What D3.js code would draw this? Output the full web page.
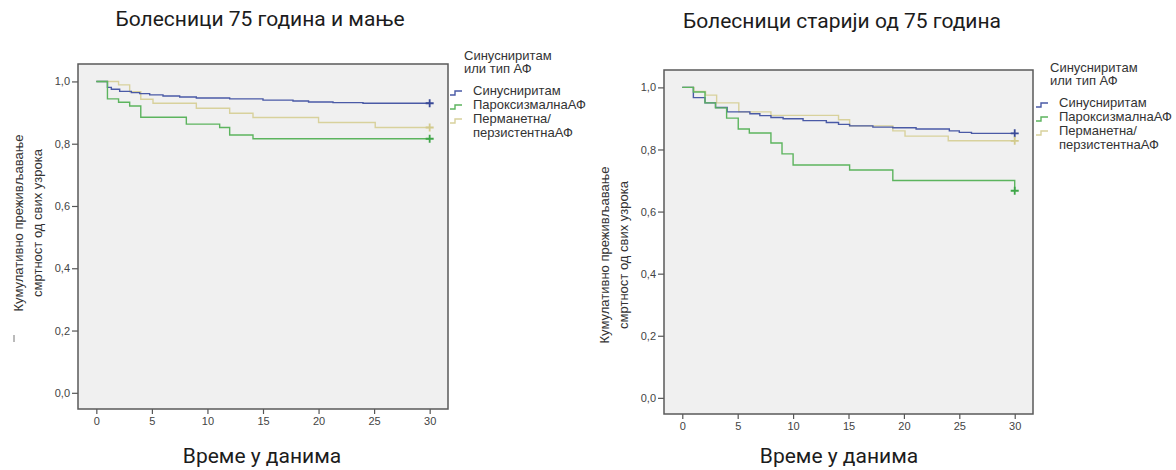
<!DOCTYPE html>
<html>
<head>
<meta charset="utf-8">
<script src="https://cdn.jsdelivr.net/npm/d3@7"></script>
<style>
  body { margin: 0; background: #fff; }
  text { font-family: "Liberation Sans", Arial, sans-serif; }
  .title { font-family: Roboto, "Noto Sans", sans-serif; }
</style>
</head>
<body>
<script>
// tick values
const timeTicks = [0, 5, 10, 15, 20, 25, 30];
const survTicks = [0, 0.2, 0.4, 0.6, 0.8, 1.0];

// legend
const legendTitle = ['Синусниритам', 'или тип АФ'];
const groupNames = [['Синусниритам'], ['ПароксизмалнаАФ'], ['Перманетна/', 'перзистентнаАФ']];
const groupColors = ['#4a5aa6', '#5cb45e', '#d8d19c'];
const censorColors = ['#3a4a98', '#3fa648', '#d2ca8c'];

// Kaplan-Meier steps [day, survival], 75 and younger
const youngSinus = [[0, 1], [1, 0.981], [1.35, 0.975], [2.1, 0.968], [3.15, 0.964], [3.9, 0.961],
  [4.8, 0.957], [6, 0.953], [7.5, 0.950], [9, 0.947], [12, 0.944], [15, 0.940], [17.7, 0.937],
  [19.1, 0.934], [21.3, 0.932], [24, 0.930], [30, 0.930]];
const youngParox = [[0, 1], [1, 0.944], [2, 0.933], [3, 0.921], [4, 0.885], [8.1, 0.863],
  [11.1, 0.852], [12, 0.828], [14.1, 0.816], [30, 0.816]];
const youngPerm = [[0, 1], [2, 0.989], [3, 0.967], [4, 0.943], [5.1, 0.930], [9, 0.914],
  [12, 0.898], [14.1, 0.884], [20, 0.868], [25.1, 0.852], [30, 0.852]];

// older than 75
const oldSinus = [[0, 1], [1, 0.967], [2.05, 0.950], [3, 0.935], [4.05, 0.921], [6.1, 0.915],
  [7, 0.909], [8, 0.903], [9.1, 0.899], [10.9, 0.893], [13, 0.887], [14.1, 0.881], [15.1, 0.876],
  [17.2, 0.872], [19, 0.870], [21.1, 0.866], [24.1, 0.860], [25, 0.855], [26.1, 0.852], [30, 0.852]];
const oldParox = [[0, 1], [1, 0.985], [2.05, 0.950], [3, 0.934], [4, 0.901], [5.05, 0.866],
  [6.05, 0.853], [8, 0.821], [9, 0.786], [10, 0.750], [15.1, 0.734], [19, 0.700], [30, 0.667]];
const oldPerm = [[0, 1], [1.05, 0.987], [2.1, 0.975], [3.1, 0.950], [5.1, 0.921], [8, 0.910],
  [14.1, 0.896], [15.1, 0.876], [19, 0.860], [20.1, 0.843], [24, 0.828], [30, 0.828]];

const panels = [
  {
    title: 'Болесници 75 година и мање', titleX: 260, titleY: 19,
    frame: { x: 78, y: 64, w: 370, h: 345 },
    xTitleX: 262, xTitleY: 456,
    yLab: { x1: 18, x2: 37, cy: 223 },
    legend: { x: 464, y: 55 },
    series: [youngSinus, youngParox, youngPerm]
  },
  {
    title: 'Болесници старији од 75 година', titleX: 842, titleY: 21,
    frame: { x: 664, y: 70, w: 369, h: 344 },
    xTitleX: 839, xTitleY: 456,
    yLab: { x1: 604, x2: 623, cy: 255 },
    legend: { x: 1050, y: 67 },
    series: [oldSinus, oldParox, oldPerm]
  }
];

const svg = d3.select('body').append('svg')
    .attr('width', 1176)
    .attr('height', 470);

const fmt = d => d3.format('.1f')(d).replace('.', ',');

panels.forEach(p => {
  const f = p.frame;
  const x = d3.scaleLinear().domain([-1.65, 31.65]).range([f.x, f.x + f.w]);
  const y = d3.scaleLinear().domain([-0.052, 1.056]).range([f.y + f.h, f.y]);

  svg.append('text')
      .attr('class', 'title')
      .attr('x', p.titleX)
      .attr('y', p.titleY)
      .attr('text-anchor', 'middle')
      .attr('dominant-baseline', 'central')
      .attr('font-size', 21)
      .attr('fill', '#1c1c1c')
      .text(p.title);

  svg.append('rect')
      .attr('x', f.x)
      .attr('y', f.y)
      .attr('width', f.w)
      .attr('height', f.h)
      .attr('fill', '#f0f0f0');

  const xAxis = svg.append('g')
      .attr('transform', `translate(0,${f.y + f.h})`)
      .call(d3.axisBottom(x).tickValues(timeTicks).tickSize(5).tickPadding(3).tickFormat(d3.format('d')));
  const yAxis = svg.append('g')
      .attr('transform', `translate(${f.x},0)`)
      .call(d3.axisLeft(y).tickValues(survTicks).tickSize(6).tickPadding(2).tickFormat(fmt));
  [xAxis, yAxis].forEach(a => {
    a.select('.domain').remove();
    a.selectAll('line').attr('stroke', '#555').attr('stroke-width', 1.2);
    a.selectAll('text')
        .attr('font-family', '"Liberation Sans", Arial, sans-serif')
        .attr('font-size', 11)
        .attr('fill', '#444');
  });

  const line = d3.line()
      .x(d => x(d[0]))
      .y(d => y(d[1]))
      .curve(d3.curveStepAfter);

  // draw in reverse so blue ends on top
  [2, 0, 1].forEach(i => {
    svg.append('path')
        .datum(p.series[i])
        .attr('d', line)
        .attr('fill', 'none')
        .attr('stroke', groupColors[i])
        .attr('stroke-width', 1.4);
  });

  // censor marks at the end of follow-up
  p.series.forEach((s, i) => {
    const last = s[s.length - 1];
    const cx = x(last[0]), cy = y(last[1]);
    svg.append('path')
        .attr('d', `M${cx - 4},${cy}H${cx + 4}M${cx},${cy - 4}V${cy + 4}`)
        .attr('stroke', censorColors[i])
        .attr('stroke-width', 1.8)
        .attr('fill', 'none');
  });

  svg.append('rect')
      .attr('x', f.x)
      .attr('y', f.y)
      .attr('width', f.w)
      .attr('height', f.h)
      .attr('fill', 'none')
      .attr('stroke', '#5a5a5a')
      .attr('stroke-width', 1.5);

  svg.append('text')
      .attr('class', 'title')
      .attr('x', p.xTitleX)
      .attr('y', p.xTitleY)
      .attr('text-anchor', 'middle')
      .attr('dominant-baseline', 'central')
      .attr('font-size', 21)
      .attr('fill', '#1c1c1c')
      .text('Време у данима');

  [['Кумулативно преживљавање', p.yLab.x1], ['смртност од свих узрока', p.yLab.x2]].forEach(([t, lx]) => {
    svg.append('text')
        .attr('transform', `translate(${lx},${p.yLab.cy}) rotate(-90)`)
        .attr('text-anchor', 'middle')
        .attr('dominant-baseline', 'central')
        .attr('font-size', 13)
        .attr('fill', '#333')
        .text(t);
  });

  // legend
  const lg = svg.append('g').attr('transform', `translate(${p.legend.x},${p.legend.y})`);
  legendTitle.forEach((t, k) => {
    lg.append('text')
        .attr('x', 0)
        .attr('y', k * 13.5)
        .attr('dominant-baseline', 'central')
        .attr('font-size', 13)
        .attr('fill', '#333')
        .text(t);
  });
  let row = 0;
  groupNames.forEach((lines, i) => {
    const ly = 35 + row * 14;
    lg.append('path')
        .attr('d', `M-14,${ly + 5}H-9V${ly + 1}H-2`)
        .attr('fill', 'none')
        .attr('stroke', groupColors[i])
        .attr('stroke-width', 1.4);
    lines.forEach((t, k) => {
      lg.append('text')
          .attr('x', 9)
          .attr('y', ly + k * 14)
          .attr('dominant-baseline', 'central')
          .attr('font-size', 13)
          .attr('fill', '#333')
          .text(t);
    });
    row += lines.length;
  });
});

// stray mark left of the first y label
svg.append('line')
    .attr('x1', 14).attr('x2', 14)
    .attr('y1', 335).attr('y2', 342)
    .attr('stroke', '#777')
    .attr('stroke-width', 1);
</script>
</body>
</html>
